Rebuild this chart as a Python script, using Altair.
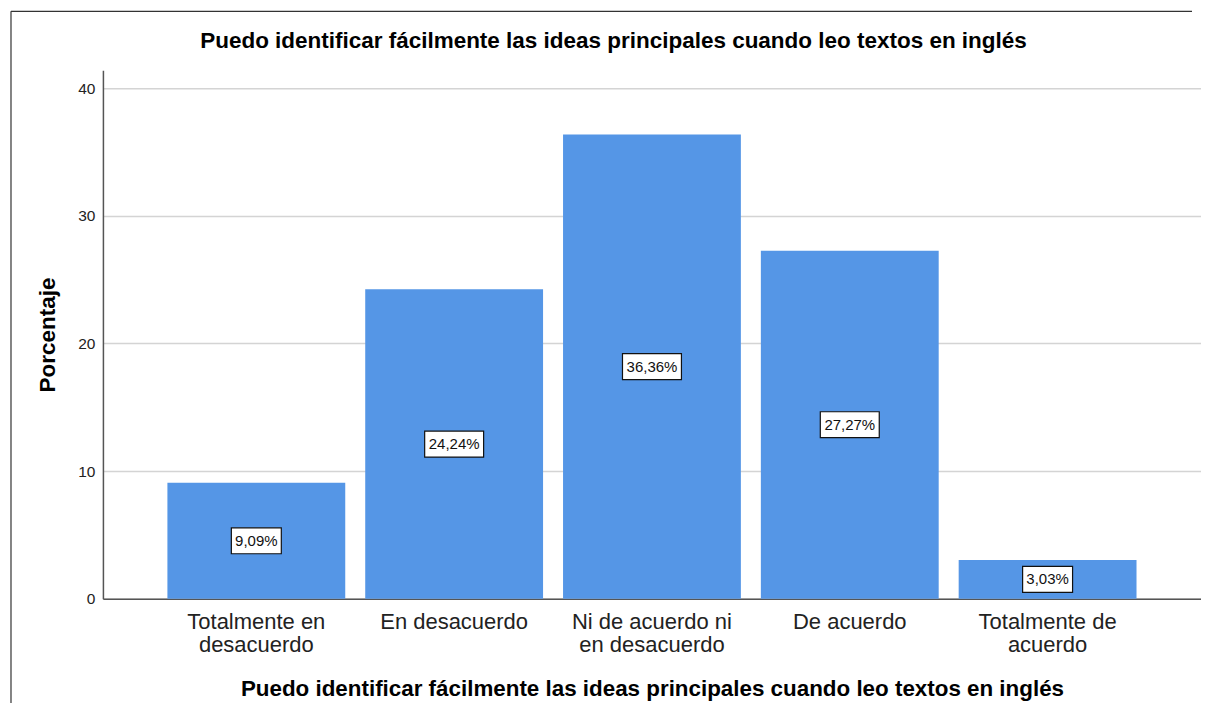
import altair as alt
import pandas as pd

# ---- data ----
categories = [
    "Totalmente en\ndesacuerdo",
    "En desacuerdo",
    "Ni de acuerdo ni\nen desacuerdo",
    "De acuerdo",
    "Totalmente de\nacuerdo",
]
percentages = [9.09, 24.24, 36.36, 27.27, 3.03]
value_labels = ["9,09%", "24,24%", "36,36%", "27,27%", "3,03%"]
y_ticks = [0, 10, 20, 30, 40]
chart_title = "Puedo identificar fácilmente las ideas principales cuando leo textos en inglés"
x_title = "Puedo identificar fácilmente las ideas principales cuando leo textos en inglés"
y_title = "Porcentaje"

df = pd.DataFrame({"cat": categories, "pct": percentages, "lab": value_labels})

W, H = 1099, 529
FONT = "Liberation Sans"
BAR = "#5596E6"

x_enc = alt.X(
    "cat:N",
    sort=categories,
    scale=alt.Scale(paddingInner=0.101, paddingOuter=0.326),
    axis=alt.Axis(
        title=x_title,
        labelAngle=0,
        labelExpr="split(datum.label, '\\n')",
        labelFontSize=22,
        labelLineHeight=23,
        labelColor="#222222",
        labelPadding=13,
        labelBaseline="top",
        labelLimit=0,
        ticks=False,
        domainColor="#555555",
        domainWidth=1.5,
        titleFontSize=22.4,
        titleFontWeight="bold",
        titleColor="#000000",
        titleBaseline="alphabetic",
        titleY=97,
    ),
)

y_enc = alt.Y(
    "pct:Q",
    scale=alt.Scale(domain=[0, 41.4], nice=False, zero=True),
    axis=alt.Axis(
        title=y_title,
        values=y_ticks,
        ticks=False,
        labelFontSize=15.5,
        labelColor="#222222",
        labelPadding=8,
        grid=True,
        gridColor="#d4d4d4",
        gridWidth=1.5,
        domainColor="#555555",
        domainWidth=1.5,
        titleFontSize=22.5,
        titleFontWeight="bold",
        titleColor="#000000",
        titleBaseline="alphabetic",
        titleX=-48,
        titleY=H / 2,
    ),
)

base = alt.Chart(df)

bars = base.mark_bar(color=BAR).encode(x=x_enc, y=y_enc)

mid = base.transform_calculate(mid="datum.pct / 2")

box5 = mid.transform_filter("length(datum.lab) <= 5").mark_point(
    shape="M-1,-0.52L1,-0.52L1,0.52L-1,0.52Z",
    size=50 * 50,
    filled=True,
    fill="white",
    stroke="#111111",
    strokeWidth=1.2,
    opacity=1,
).encode(x=alt.X("cat:N", sort=categories), y=alt.Y("mid:Q"))

box6 = mid.transform_filter("length(datum.lab) > 5").mark_point(
    shape="M-1,-0.4407L1,-0.4407L1,0.4407L-1,0.4407Z",
    size=59 * 59,
    filled=True,
    fill="white",
    stroke="#111111",
    strokeWidth=1.2,
    opacity=1,
).encode(x=alt.X("cat:N", sort=categories), y=alt.Y("mid:Q"))

texts = mid.mark_text(
    font=FONT, fontSize=15, color="#111111", baseline="middle", align="center"
).encode(x=alt.X("cat:N", sort=categories), y=alt.Y("mid:Q"), text="lab:N")

title = alt.Chart(pd.DataFrame({"t": [chart_title]})).mark_text(
    font=FONT, fontSize=22.5, fontWeight="bold", color="#000000",
    align="center", baseline="alphabetic",
).encode(text="t:N", x=alt.value(511), y=alt.value(-22))

frame_top = alt.Chart(pd.DataFrame({"f": [0]})).mark_rule(
    stroke="#333333", strokeWidth=1.2
).encode(x=alt.value(-92), x2=alt.value(1090), y=alt.value(-59), y2=alt.value(-59))

frame_left = alt.Chart(pd.DataFrame({"f": [0]})).mark_rule(
    stroke="#333333", strokeWidth=1.2
).encode(x=alt.value(-92), x2=alt.value(-92), y=alt.value(-59), y2=alt.value(700))

chart = (
    alt.layer(bars, box5, box6, texts, title, frame_top, frame_left)
    .properties(
        width=W,
        height=H,
        autosize="none",
        padding={"left": 95, "top": 62, "right": 0, "bottom": 104},
        background="white",
    )
    .configure_axis(labelFont=FONT, titleFont=FONT)
    .configure_view(stroke="transparent")
)

chart.save("out.html", embed_options={"renderer": "svg", "actions": False})
